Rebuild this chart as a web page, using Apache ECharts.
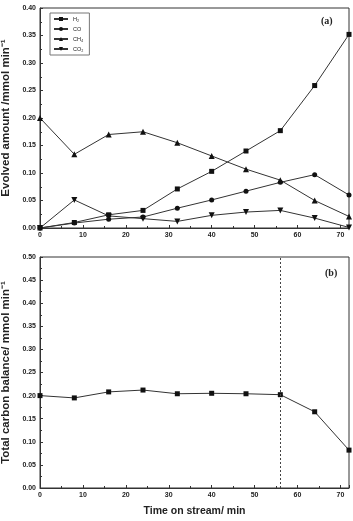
<!DOCTYPE html>
<html><head><meta charset="utf-8">
<script src="https://cdn.jsdelivr.net/npm/echarts@6/dist/echarts.min.js"></script>
<style>html,body{margin:0;padding:0;background:#fff}#c{width:353px;height:521px}</style>
</head><body><div id="c"></div>
<script>
const time = [0, 8, 16, 24, 32, 40, 48, 56, 64, 72];
const h2 = [0, 0.010, 0.024, 0.032, 0.071, 0.103, 0.140, 0.177, 0.259, 0.352];
const co = [0, 0.009, 0.016, 0.020, 0.036, 0.051, 0.067, 0.083, 0.097, 0.060];
const ch4 = [0.200, 0.134, 0.170, 0.175, 0.155, 0.131, 0.107, 0.087, 0.050, 0.021];
const co2 = [0, 0.051, 0.022, 0.017, 0.012, 0.023, 0.029, 0.032, 0.018, 0.001];
const carbon = [0.200, 0.195, 0.208, 0.212, 0.204, 0.205, 0.204, 0.202, 0.165, 0.082];
const markerX = 56;

const pair = (xs, ys) => xs.map((x, i) => [x, ys[i]]);
const font = 'Arial, "Liberation Sans", sans-serif';
const axisLab = {fontFamily: font, fontWeight: 'bold', fontSize: 7, color: '#222'};
function xAx(gi, showName) {
  return {
    type: 'value', gridIndex: gi, min: 0, max: 72, interval: 10,
    axisLine: {onZero: false, lineStyle: {color: '#333'}},
    axisTick: {inside: true, length: 3, lineStyle: {color: '#333'}},
    minorTick: {show: true, splitNumber: 2, length: 2, lineStyle: {color: '#333'}},
    splitLine: {show: false},
    axisLabel: Object.assign({margin: 4, showMaxLabel: false}, axisLab),
    name: showName ? 'Time on stream/ min' : '',
    nameLocation: 'middle', nameGap: 18,
    nameTextStyle: {fontFamily: font, fontWeight: 'bold', fontSize: 10.5, color: '#222'}
  };
}
function yAx(gi, max, name) {
  return {
    type: 'value', gridIndex: gi, min: 0, max: max, interval: 0.05,
    axisLine: {show: true, lineStyle: {color: '#333'}},
    axisTick: {inside: true, length: 3, lineStyle: {color: '#333'}},
    minorTick: {show: true, splitNumber: 2, length: 2, lineStyle: {color: '#333'}},
    splitLine: {show: false},
    axisLabel: Object.assign({margin: 4, formatter: v => v.toFixed(2)}, axisLab),
    name: name, nameLocation: 'middle', nameGap: 23,
    nameTextStyle: {fontFamily: font, fontWeight: 'bold', fontSize: 11.5, color: '#222'}
  };
}
const lineStyle = {color: '#333', width: 1};
const itemStyle = {color: '#111'};
const downTri = 'path://M0,0 L10,0 L5,9 Z';
function ser(name, data, symbol) {
  return {name, type: 'line', xAxisIndex: 0, yAxisIndex: 0, data: pair(time, data),
    symbol, symbolSize: symbol === 'circle' ? 5 : (symbol === 'rect' ? 5 : 6),
    showSymbol: true, lineStyle, itemStyle, clip: false, animation: false};
}
const chart = echarts.init(document.getElementById('c'), null, {renderer: 'canvas'});
chart.setOption({
  animation: false,
  grid: [
    {left: 40, right: 4, top: 8, height: 220, show: true, borderColor: '#333', borderWidth: 1, outerBoundsMode: 'none', containLabel: false},
    {left: 40, right: 4, top: 257, height: 231, show: true, borderColor: '#333', borderWidth: 1, outerBoundsMode: 'none', containLabel: false}
  ],
  xAxis: [xAx(0, false), xAx(1, true)],
  yAxis: [yAx(0, 0.40, 'Evolved amount /mmol min⁻¹'), yAx(1, 0.50, 'Total carbon balance/ mmol min⁻¹')],
  legend: {
    left: 50, top: 13, orient: 'vertical', itemWidth: 14, itemHeight: 5, itemGap: 4,
    padding: [3, 6, 3, 3], borderColor: '#777', borderWidth: 1,
    textStyle: {fontFamily: font, fontSize: 5.5, color: '#222'},
    data: ['H₂', 'CO', 'CH₄', 'CO₂']
  },
  graphic: [
    {type: 'text', left: 321, top: 16, style: {text: '(a)', font: 'bold 10px "Liberation Serif", serif', fill: '#222'}},
    {type: 'text', left: 325, top: 268, style: {text: '(b)', font: 'bold 10px "Liberation Serif", serif', fill: '#222'}}
  ],
  series: [
    ser('H₂', h2, 'rect'),
    ser('CO', co, 'circle'),
    ser('CH₄', ch4, 'triangle'),
    ser('CO₂', co2, downTri),
    {name: 'carbon', type: 'line', xAxisIndex: 1, yAxisIndex: 1, data: pair(time, carbon),
     symbol: 'rect', symbolSize: 5, lineStyle, itemStyle, clip: false,
     markLine: {silent: true, symbol: 'none', label: {show: false},
       lineStyle: {type: [2, 2], color: '#444', width: 1},
       data: [{xAxis: markerX}]}}
  ]
});
</script></body></html>
